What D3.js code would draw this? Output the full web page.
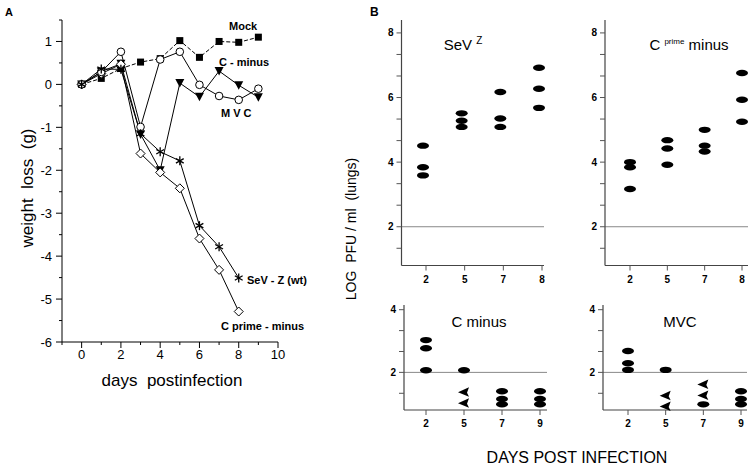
<!DOCTYPE html>
<html><head><meta charset="utf-8">
<script src="https://cdn.jsdelivr.net/npm/d3@7"></script>
<style>
body{margin:0;background:#fff;}
text{font-family:"Liberation Sans",Arial,sans-serif;}
</style></head>
<body><svg id="c" width="754" height="471"></svg>
<script>
// ---------- Panel A data ----------
const daysA = [0,1,2,3,4,5,6,7,8,9];
const mock      = [0,0.14,0.37,0.52,0.6,1.02,0.63,1.0,0.98,1.1];
const cMinus    = [0,0.29,0.76,-0.99,0.58,0.76,-0.01,-0.27,-0.36,-0.1];
const mvc       = [0,0.3,0.48,-1.16,-2.0,0.03,-0.29,0.31,-0.02,-0.3];
const sevZ      = [0,0.36,0.35,-1.15,-1.57,-1.78,-3.29,-3.78,-4.51];
const cPrime    = [0,0.25,0.47,-1.61,-2.05,-2.42,-3.59,-4.32,-5.29];
const xTicksA = [0,2,4,6,8,10];
const yTicksA = [1,0,-1,-2,-3,-4,-5,-6];

// ---------- Panel B data ----------
const daysTop = ["2","5","7","8"];
const daysBottom = ["2","5","7","9"];
const yTicksTop = [2,4,6,8];
const yTicksBottom = [2,4];
// values per day (ellipse = detected; arrow = below detection)
const sevZVals = [[4.51,3.84,3.59],[5.51,5.28,5.09],[6.17,5.35,5.09],[6.92,6.27,5.68]];
const cPrimeVals = [[4.0,3.84,3.17],[4.68,4.42,3.92],[5.0,4.51,4.33],[6.76,5.93,5.25]];
const cMinusVals = [[3.03,2.77,2.07],[2.07],[1.4,1.15,0.98],[1.4,1.15,0.98]];
const cMinusArrows = [[],[1.38,1.03],[],[]];
const mvcVals = [[2.68,2.29,2.08],[2.08],[0.98],[1.4,1.15,0.98]];
const mvcArrows = [[],[1.27,0.93],[1.63,1.28],[]];

const svg = d3.select("#c");

// ================= Panel A =================
const xA = d3.scaleLinear().domain([-1,10]).range([62,278]);
const yA = d3.scaleLinear().domain([-6,1.5]).range([342,20]);

svg.append("text").attr("x",5).attr("y",16).attr("font-size",11).attr("font-weight","bold").text("A");

const gA = svg.append("g");
// axes
gA.append("line").attr("x1",62).attr("x2",62).attr("y1",yA(1.5)).attr("y2",342).attr("stroke","#000");
gA.append("line").attr("x1",62).attr("x2",xA(10)).attr("y1",342).attr("y2",342).attr("stroke","#000");
d3.range(-6,1.51,0.5).forEach(v=>{
  const major = Math.abs(v-Math.round(v))<1e-6;
  gA.append("line").attr("x1",62-(major?6:3)).attr("x2",62).attr("y1",yA(v)).attr("y2",yA(v)).attr("stroke","#000");
});
yTicksA.forEach(v=>{
  gA.append("text").attr("x",52).attr("y",yA(v)+4.5).attr("text-anchor","end").attr("font-size",13).text(v);
});
d3.range(-1,10.01,1).forEach(v=>{
  const major = v%2===0;
  gA.append("line").attr("x1",xA(v)).attr("x2",xA(v)).attr("y1",342).attr("y2",342+(major?6:3)).attr("stroke","#000");
});
xTicksA.forEach(v=>{
  gA.append("text").attr("x",xA(v)).attr("y",359).attr("text-anchor","middle").attr("font-size",13).text(v);
});
gA.append("text").attr("x",xA(4.6)).attr("y",386).attr("text-anchor","middle").attr("font-size",17).attr("xml:space","preserve").text("days  postinfection");
gA.append("text").attr("transform","translate(33,188) rotate(-90)").attr("text-anchor","middle").attr("font-size",17).attr("xml:space","preserve").text("weight  loss  (g)");

const lineA = d3.line().x((d,i)=>xA(daysA[i])).y(d=>yA(d));
function drawLine(vals,dash){
  gA.append("path").attr("d",lineA(vals)).attr("fill","none").attr("stroke","#000").attr("stroke-width",1)
    .attr("stroke-dasharray",dash||null);
}
drawLine(mock,"4,2");
drawLine(cMinus);
drawLine(mvc);
drawLine(sevZ);
drawLine(cPrime);

// markers
function pts(vals){return vals.map((v,i)=>[xA(daysA[i]),yA(v)]);}
pts(mock).forEach(([x,y])=>gA.append("rect").attr("x",x-3.5).attr("y",y-3.5).attr("width",7).attr("height",7).attr("fill","#000"));
pts(mvc).forEach(([x,y])=>gA.append("path").attr("d",`M${x-4.5},${y-4}L${x+4.5},${y-4}L${x},${y+4.5}Z`).attr("fill","#000"));
pts(cPrime).forEach(([x,y])=>gA.append("path").attr("d",`M${x},${y-4.5}L${x+4.5},${y}L${x},${y+4.5}L${x-4.5},${y}Z`).attr("fill","#fff").attr("stroke","#000"));
pts(cMinus).forEach(([x,y])=>gA.append("circle").attr("cx",x).attr("cy",y).attr("r",3.8).attr("fill","#fff").attr("stroke","#000"));
pts(sevZ).forEach(([x,y])=>{
  const r=4.5;
  [90,30,150].forEach(a=>{
    const dx=r*Math.cos(a*Math.PI/180), dy=r*Math.sin(a*Math.PI/180);
    gA.append("line").attr("x1",x-dx).attr("x2",x+dx).attr("y1",y-dy).attr("y2",y+dy).attr("stroke","#000").attr("stroke-width",1.3);
  });
});
// labels
const lab = (x,y,t)=>gA.append("text").attr("x",x).attr("y",y).attr("font-size",11).attr("font-weight","bold").text(t);
lab(229,30,"Mock");
lab(219,66,"C - minus");
lab(221,117,"M V C");
lab(247,284,"SeV - Z (wt)");
lab(221,330,"C prime - minus");

// ================= Panel B =================
svg.append("text").attr("x",370).attr("y",16).attr("font-size",12).attr("font-weight","bold").text("B");

function subplot(cfg){
  const g = svg.append("g");
  const y = d3.scaleLinear().domain(cfg.yDomain).range(cfg.yRange);
  const x = d3.scalePoint().domain(cfg.days).range(cfg.xRange);
  const ax = cfg.axisX, bottom = cfg.yRange[0];
  // reference line at 2
  g.append("line").attr("x1",ax).attr("x2",cfg.axisEnd).attr("y1",y(2)).attr("y2",y(2)).attr("stroke","#888").attr("stroke-width",1);
  g.append("line").attr("x1",ax).attr("x2",ax).attr("y1",cfg.yRange[1]).attr("y2",bottom).attr("stroke","#444").attr("stroke-width",1.2);
  g.append("line").attr("x1",ax).attr("x2",cfg.axisEnd).attr("y1",bottom).attr("y2",bottom).attr("stroke","#444").attr("stroke-width",1.2);
  // y ticks every 2/3
  const topV = d3.max(cfg.yTicks);
  for(let k=0;;k++){
    const v = topV - k*2/3;
    if(v < cfg.yDomain[0]) break;
    g.append("line").attr("x1",ax-5).attr("x2",ax).attr("y1",y(v)).attr("y2",y(v)).attr("stroke","#555");
  }
  cfg.yTicks.forEach(v=>g.append("text").attr("x",ax-8).attr("y",y(v)+3.5).attr("text-anchor","end")
    .attr("font-size",10).attr("font-weight","bold").text(v));
  cfg.days.forEach(d=>{
    g.append("line").attr("x1",x(d)).attr("x2",x(d)).attr("y1",bottom).attr("y2",bottom+5).attr("stroke","#555");
    g.append("text").attr("x",x(d)).attr("y",bottom+17).attr("text-anchor","middle").attr("font-size",10).attr("font-weight","bold").text(d);
  });
  cfg.vals.forEach((arr,i)=>arr.forEach(v=>{
    g.append("ellipse").attr("cx",x(cfg.days[i])+cfg.dx).attr("cy",y(v)).attr("rx",6).attr("ry",3.2).attr("fill","#000");
  }));
  (cfg.arrows||[]).forEach((arr,i)=>arr.forEach(v=>{
    const cx=x(cfg.days[i])+cfg.dx, cy=y(v);
    g.append("path").attr("d",`M${cx-6},${cy+0.5}L${cx+5},${cy-4.5}L${cx+3},${cy+1}L${cx+5},${cy+5}Z`).attr("fill","#000");
  }));
  const t = g.append("text").attr("x",cfg.titleX).attr("y",cfg.titleY).attr("text-anchor","middle").attr("font-size",15);
  cfg.title(t);
}

subplot({days:daysTop,yDomain:[0.8,8.4],yRange:[265.5,20],xRange:[426,542],axisX:401.5,axisEnd:544,dx:-3,
  yTicks:yTicksTop,vals:sevZVals,titleX:463,titleY:50,
  title:t=>{t.append("tspan").text("SeV ");t.append("tspan").attr("font-size",10).attr("dy",-6).text("Z");}});
subplot({days:daysTop,yDomain:[0.8,8.4],yRange:[265.5,20],xRange:[630,742],axisX:605,axisEnd:748,dx:0,
  yTicks:yTicksTop,vals:cPrimeVals,titleX:689,titleY:50,
  title:t=>{t.append("tspan").text("C ");t.append("tspan").attr("font-size",8).attr("dy",-6).text("prime");t.append("tspan").attr("dy",6).text(" minus");}});
subplot({days:daysBottom,yDomain:[0.8,4.15],yRange:[410,305],xRange:[426,540],axisX:404,axisEnd:547,dx:0,
  yTicks:yTicksBottom,vals:cMinusVals,arrows:cMinusArrows,titleX:479,titleY:327,
  title:t=>t.text("C minus")});
subplot({days:daysBottom,yDomain:[0.8,4.15],yRange:[410,305],xRange:[628,741],axisX:603,axisEnd:747,dx:0,
  yTicks:yTicksBottom,vals:mvcVals,arrows:mvcArrows,titleX:680,titleY:327,
  title:t=>t.text("MVC")});

svg.append("text").attr("transform","translate(356,229) rotate(-90)").attr("text-anchor","middle").attr("font-size",14).attr("xml:space","preserve").text("LOG  PFU / ml  (lungs)");
svg.append("text").attr("x",577).attr("y",463).attr("text-anchor","middle").attr("font-size",16).text("DAYS POST INFECTION");
</script></body></html>
